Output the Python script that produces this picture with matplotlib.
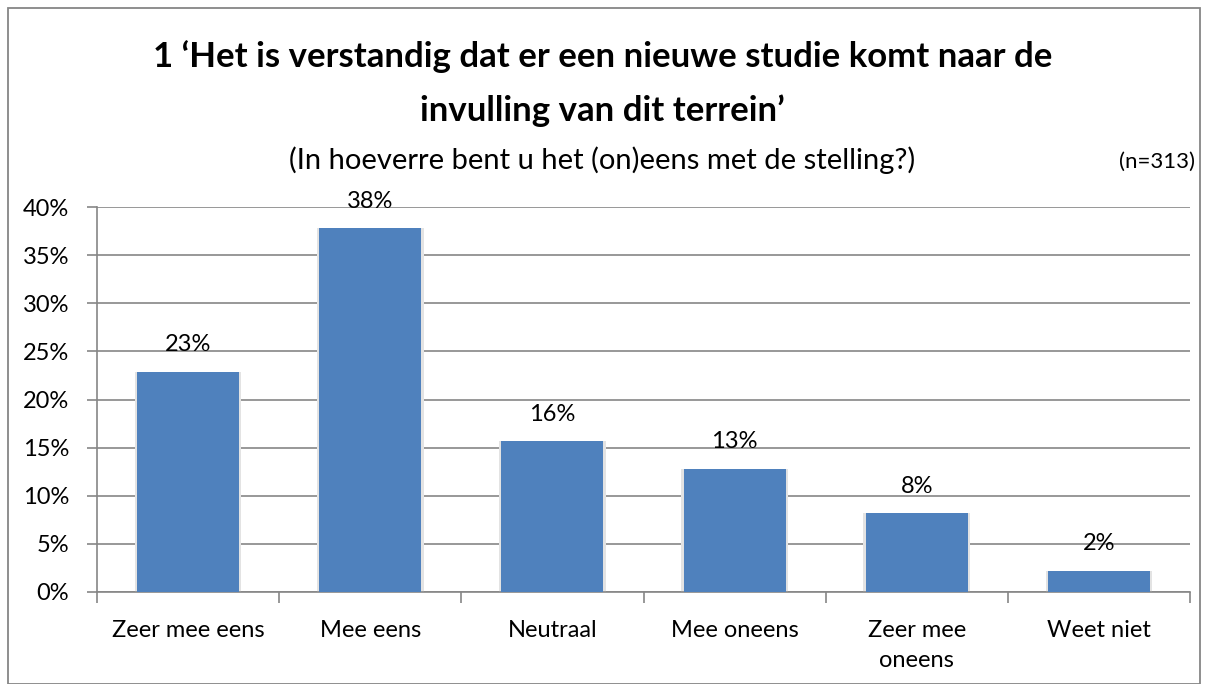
import matplotlib.pyplot as plt
from matplotlib.patches import Rectangle
import numpy as np

categories = ["Zeer mee eens", "Mee eens", "Neutraal", "Mee oneens", "Zeer mee\noneens", "Weet niet"]
values = [22.9, 37.8, 15.7, 12.8, 8.2, 2.2]
labels = ["23%", "38%", "16%", "13%", "8%", "2%"]

title = "1 \u2018Het is verstandig dat er een nieuwe studie komt naar de\ninvulling van dit terrein\u2019"
subtitle = "(In hoeverre bent u het (on)eens met de stelling?)"
n_text = "(n=313)"

plt.rcParams['font.family'] = ['Lato', 'DejaVu Sans']
bar_color = "#4f81bd"
grid_color = "#868686"

fig = plt.figure(figsize=(12.05, 6.84), dpi=100)
ax = fig.add_axes([97 / 1205, 1 - 592 / 684, (1190 - 97) / 1205, (592 - 207) / 684])

x = np.arange(len(categories))
# soft shadow behind the bars
ax.bar(x, values, width=0.585, color="#e3e3e3", zorder=2)
ax.bar(x, values, width=0.56, color=bar_color, zorder=3)
for xi, v, lab in zip(x, values, labels):
    ax.text(xi, v + 1.7, lab, ha="center", va="bottom", fontsize=17, zorder=4)

ax.set_xlim(-0.5, len(categories) - 0.5)
ax.set_ylim(0, 40)
ax.set_yticks(range(0, 41, 5))
ax.set_yticklabels([f"{t}%" for t in range(0, 41, 5)], fontsize=17)
ax.yaxis.grid(True, color=grid_color, linewidth=1.2, zorder=1)
ax.set_axisbelow(True)

ax.set_xticks(np.arange(-0.5, len(categories), 1))
ax.set_xticklabels([])
ax.set_xticks(x, minor=True)
ax.set_xticklabels(categories, minor=True, fontsize=17, linespacing=1.55)
ax.tick_params(axis="x", which="minor", length=0, pad=20)
ax.tick_params(axis="x", which="major", length=8, color=grid_color, width=1.2)
ax.tick_params(axis="y", length=7, color=grid_color, width=1.2, pad=13)

for side in ["top", "right"]:
    ax.spines[side].set_visible(False)
for side in ["left", "bottom"]:
    ax.spines[side].set_color(grid_color)
    ax.spines[side].set_linewidth(1.2)

fig.text(0.5, 1 - 84 / 684, title, ha="center", va="center", fontsize=25,
         fontweight="bold", linespacing=1.8)
fig.text(0.5, 1 - 160 / 684, subtitle, ha="center", va="center", fontsize=21)
fig.text(1157 / 1205, 1 - 162 / 684, n_text, ha="center", va="center", fontsize=16)

fig.patches.append(Rectangle((8 / 1205, 0), 1192 / 1205, 1 - 8 / 684, transform=fig.transFigure,
                             fill=False, edgecolor=grid_color, linewidth=1.3))

fig.savefig("out.png", dpi=100)
